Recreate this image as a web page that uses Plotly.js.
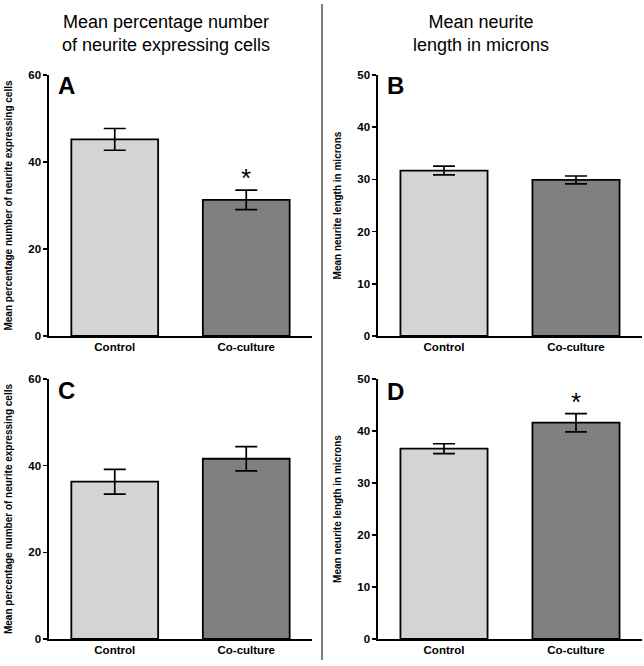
<!DOCTYPE html>
<html>
<head>
<meta charset="utf-8">
<script src="https://cdn.plot.ly/plotly-3.0.1.min.js"></script>
<style>html,body{margin:0;padding:0;background:#fff;}#chart{width:644px;height:666px;}</style>
</head>
<body>
<div id="chart"></div>
<script>
const categories = ["Control", "Co-culture"];
const meanA = [45.2, 31.3];
const errA = [2.5, 2.25];
const meanB = [31.7, 29.9];
const errB = [0.85, 0.75];
const meanC = [36.3, 41.6];
const errC = [2.85, 2.8];
const meanD = [36.6, 41.6];
const errD = [0.95, 1.75];
const barColors = ["#d4d4d4", "#808080"];
const panelLetters = ["A", "B", "C", "D"];
const yTitlePercent = "Mean percentage number of neurite expressing cells";
const yTitleLength = "Mean neurite length in microns";
const colTitleLeft = "Mean percentage number<br>of neurite expressing cells";
const colTitleRight = "Mean neurite<br>length in microns";
const sigPanels = {A: 1, D: 1};

const W = 644, H = 666;
const FONT = "Liberation Sans, Arial, sans-serif";

function barTrace(vals, errs, xa, ya) {
  return {
    type: "bar", x: categories, y: vals, xaxis: xa, yaxis: ya,
    width: 0.66,
    marker: {color: barColors, line: {color: "#000", width: 1.8}},
    error_y: {type: "data", array: errs, visible: true, color: "#000", thickness: 1.7, width: 11},
    showlegend: false, hoverinfo: "skip"
  };
}

const data = [
  barTrace(meanA, errA, "x", "y"),
  barTrace(meanB, errB, "x2", "y2"),
  barTrace(meanC, errC, "x3", "y3"),
  barTrace(meanD, errD, "x4", "y4")
];

function px2fx(p) { return p / W; }
function py2fy(p) { return 1 - p / H; }

const colLeft = [px2fx(49), px2fx(312)];
const colRight = [px2fx(378), px2fx(642)];
const rowTop = [py2fy(336), py2fy(75)];
const rowBot = [py2fy(639), py2fy(379)];

function xax(domain, anchor) {
  return {
    domain: domain, anchor: anchor, range: [-0.5, 1.5], type: "category",
    showline: true, linecolor: "#000", linewidth: 1.6, ticks: "", showgrid: false, zeroline: false,
    tickfont: {family: FONT, size: 11.5, color: "#000", weight: "bold"}, fixedrange: true
  };
}
function yax(domain, anchor, maxv, dtick, title) {
  return {
    domain: domain, anchor: anchor, range: [0, maxv], dtick: dtick,
    showline: true, linecolor: "#000", linewidth: 1.6, ticks: "outside", ticklen: 4, tickwidth: 1.5, tickcolor: "#000",
    showgrid: false, zeroline: false,
    tickfont: {family: FONT, size: 11.5, color: "#000", weight: "bold"},
    title: {text: title, font: {family: FONT, size: 10, color: "#000", weight: "bold"}, standoff: 14},
    fixedrange: true
  };
}

const annotations = [
  {text: colTitleLeft, xref: "paper", yref: "paper", x: px2fx(166), y: py2fy(33), xanchor: "center", yanchor: "middle", showarrow: false, font: {family: FONT, size: 18, color: "#000"}},
  {text: colTitleRight, xref: "paper", yref: "paper", x: px2fx(481), y: py2fy(33), xanchor: "center", yanchor: "middle", showarrow: false, font: {family: FONT, size: 18, color: "#000"}},
  {text: "A", xref: "paper", yref: "paper", x: px2fx(56), y: py2fy(86), xanchor: "left", yanchor: "middle", showarrow: false, font: {family: FONT, size: 24, color: "#000", weight: "bold"}},
  {text: "B", xref: "paper", yref: "paper", x: px2fx(385), y: py2fy(86), xanchor: "left", yanchor: "middle", showarrow: false, font: {family: FONT, size: 24, color: "#000", weight: "bold"}},
  {text: "C", xref: "paper", yref: "paper", x: px2fx(56), y: py2fy(390), xanchor: "left", yanchor: "middle", showarrow: false, font: {family: FONT, size: 24, color: "#000", weight: "bold"}},
  {text: "D", xref: "paper", yref: "paper", x: px2fx(385), y: py2fy(391), xanchor: "left", yanchor: "middle", showarrow: false, font: {family: FONT, size: 24, color: "#000", weight: "bold"}},
  {text: "*", xref: "x", yref: "y", x: categories[sigPanels.A], y: meanA[1] + errA[1], yshift: -5, xanchor: "center", yanchor: "bottom", showarrow: false, font: {family: FONT, size: 26, color: "#000"}},
  {text: "*", xref: "x4", yref: "y4", x: categories[sigPanels.D], y: meanD[1] + errD[1], yshift: -5, xanchor: "center", yanchor: "bottom", showarrow: false, font: {family: FONT, size: 26, color: "#000"}}
];

const layout = {
  width: W, height: H,
  margin: {l: 0, r: 0, t: 0, b: 0},
  paper_bgcolor: "#fff", plot_bgcolor: "#fff",
  font: {family: FONT, color: "#000"},
  showlegend: false,
  xaxis: xax(colLeft, "y"),
  yaxis: yax(rowTop, "x", 60, 20, yTitlePercent),
  xaxis2: xax(colRight, "y2"),
  yaxis2: yax(rowTop, "x2", 50, 10, yTitleLength),
  xaxis3: xax(colLeft, "y3"),
  yaxis3: yax(rowBot, "x3", 60, 20, yTitlePercent),
  xaxis4: xax(colRight, "y4"),
  yaxis4: yax(rowBot, "x4", 50, 10, yTitleLength),
  annotations: annotations,
  shapes: [
    {type: "line", xref: "paper", yref: "paper", x0: px2fx(322), x1: px2fx(322), y0: py2fy(4), y1: py2fy(660), line: {color: "#000", width: 1}}
  ]
};

Plotly.newPlot("chart", data, layout, {staticPlot: true, displayModeBar: false});
</script>
</body>
</html>
